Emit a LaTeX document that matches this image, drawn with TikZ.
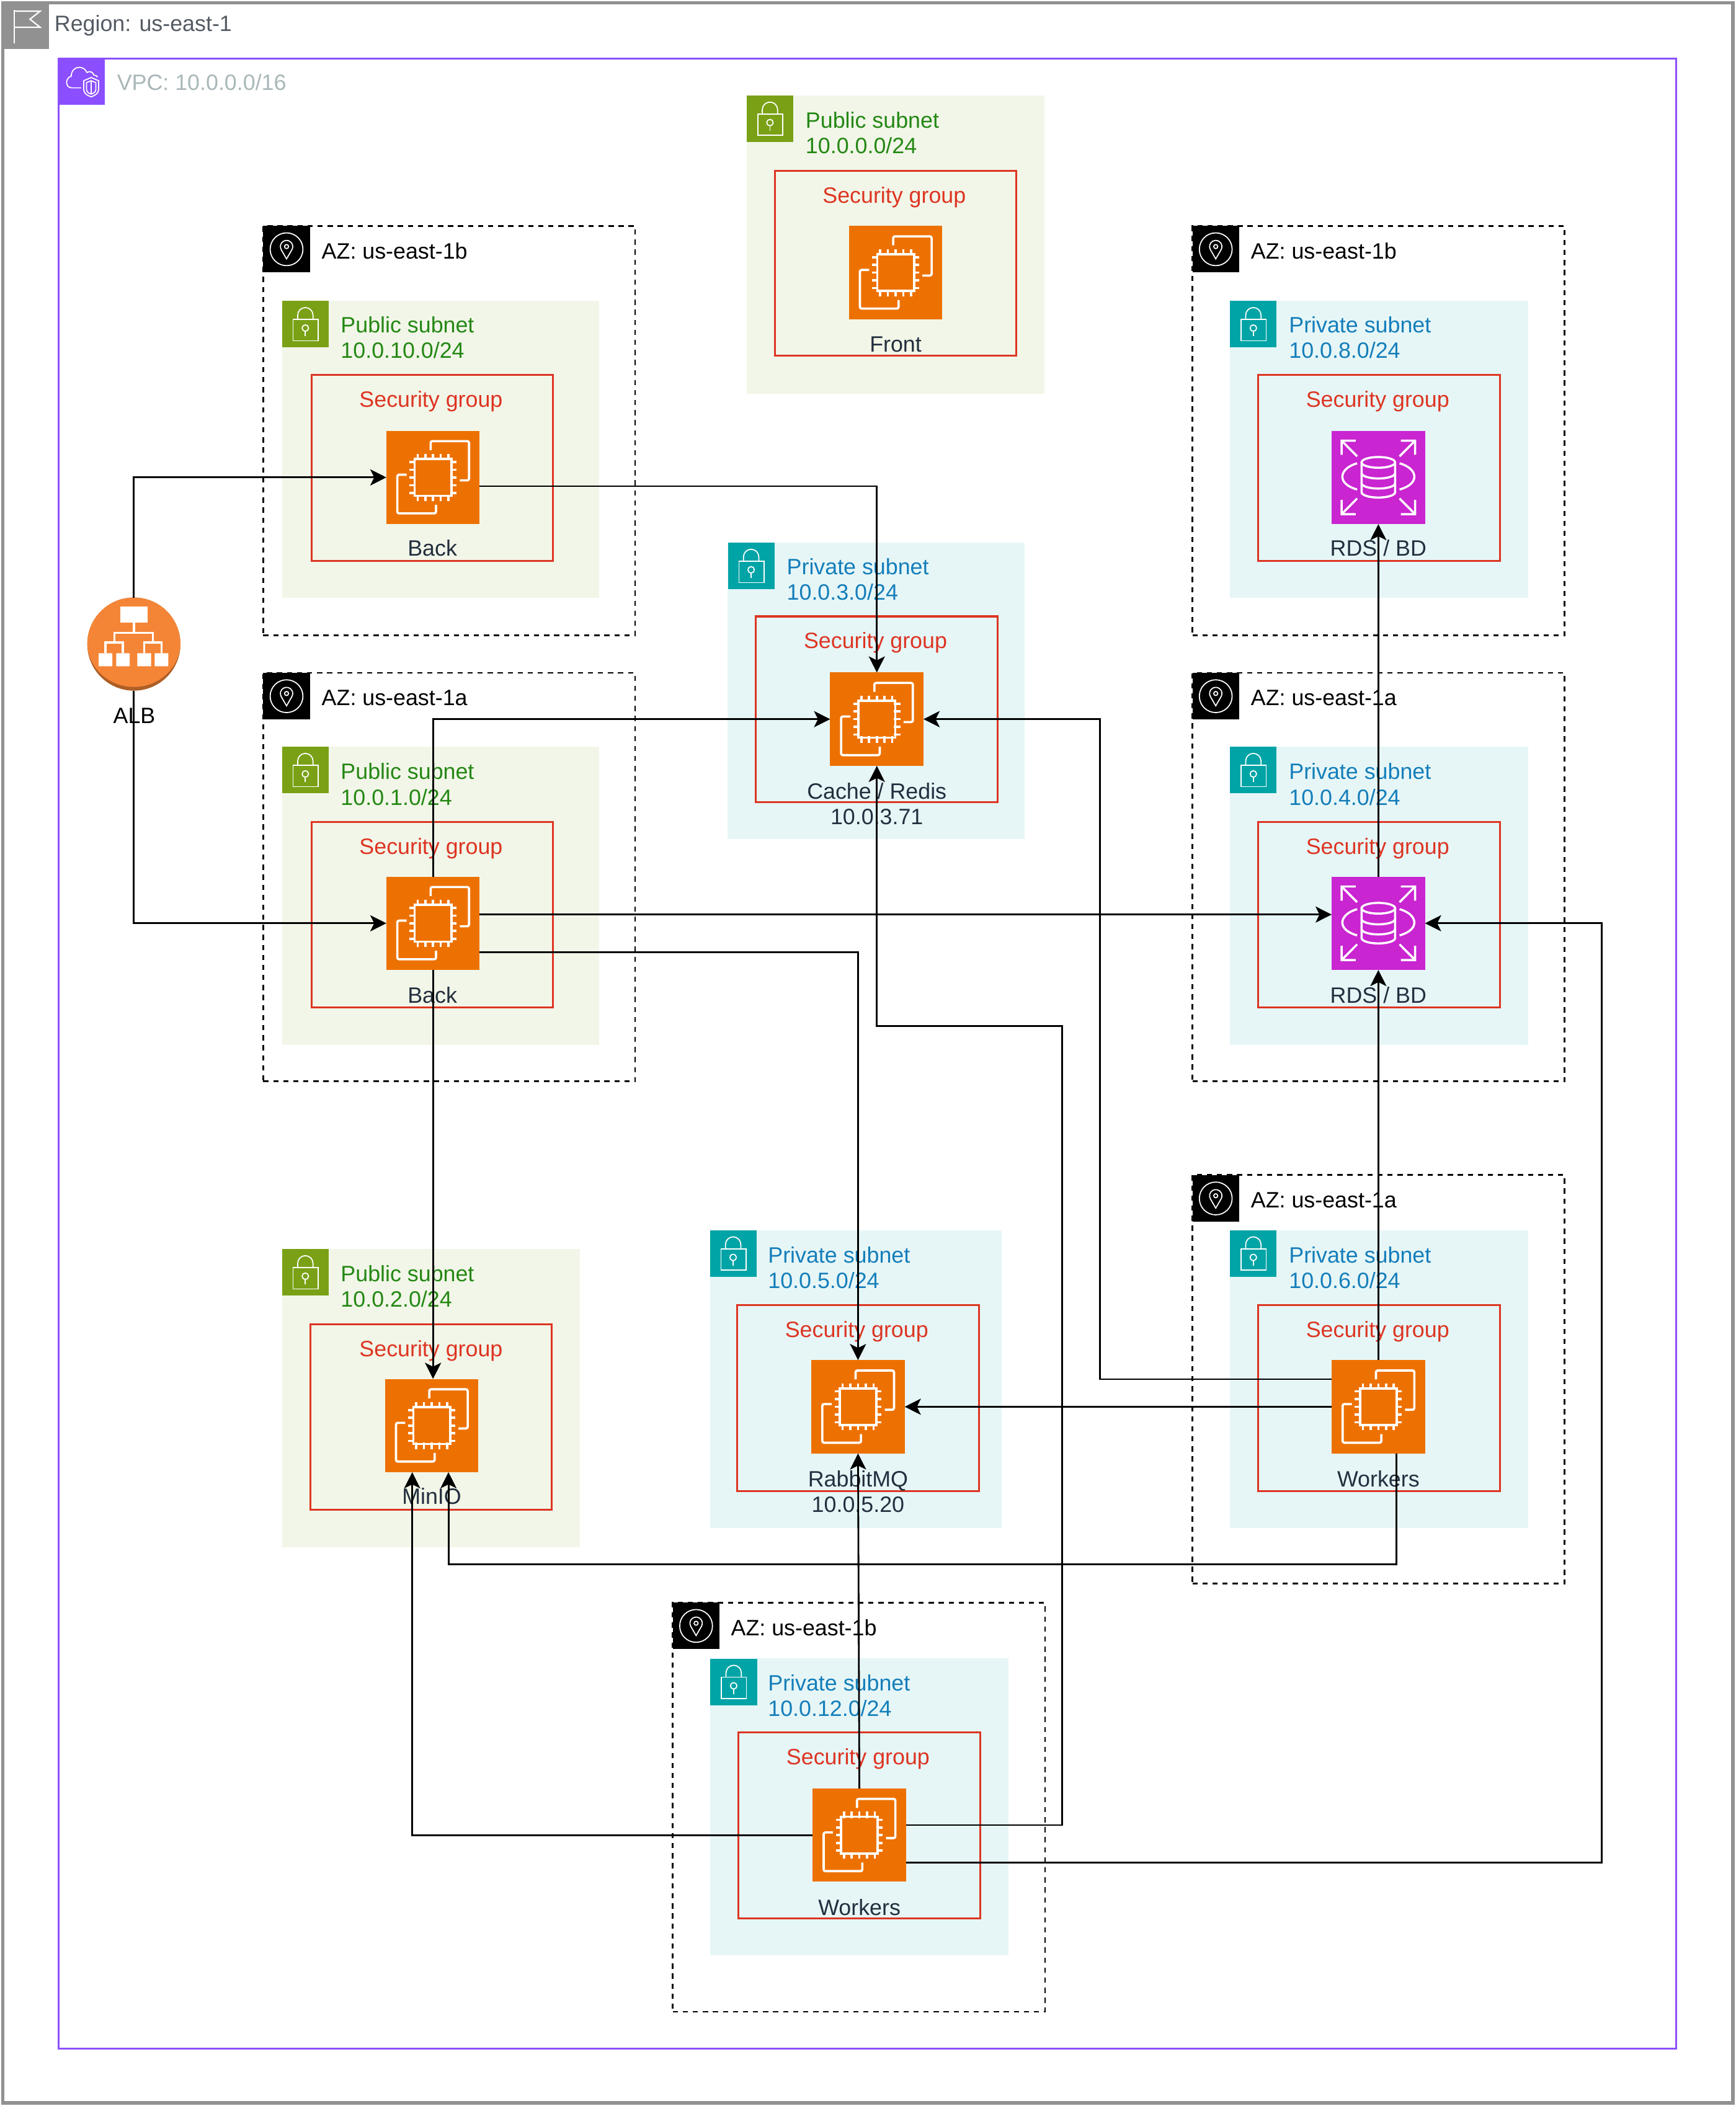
\documentclass[tikz,border=0pt]{standalone}
\usepackage{fontspec}
\setmainfont{Liberation Sans}
\usetikzlibrary{arrows.meta,fit}
\definecolor{regioncol}{HTML}{919191}
\definecolor{regiontxt}{HTML}{545B64}
\definecolor{vpccol}{HTML}{8C4FFF}
\definecolor{vpctxt}{HTML}{AAB7B8}
\definecolor{pubfill}{HTML}{F2F6E8}
\definecolor{pubicon}{HTML}{7AA116}
\definecolor{pubtxt}{HTML}{248814}
\definecolor{privfill}{HTML}{E6F6F7}
\definecolor{privicon}{HTML}{00A4A6}
\definecolor{privtxt}{HTML}{147EBA}
\definecolor{sgcol}{HTML}{DD3522}
\definecolor{ec2col}{HTML}{ED7100}
\definecolor{rdscol}{HTML}{C925D1}
\definecolor{albcol}{HTML}{F58536}
\definecolor{albdark}{HTML}{AD5F26}
\definecolor{lblcol}{HTML}{232F3E}
\begin{document}
\begin{tikzpicture}[x=0.7495pt,y=-0.7497pt]
    \tikzstyle{every node}+=[inner sep=0pt,outer sep=0pt,font=\fontsize{12.4}{14.25}\selectfont]
    \tikzstyle{regionbox}=[draw=regioncol,line width=1.95pt]
    \tikzstyle{vpcbox}=[draw=vpccol,line width=1pt]
    \tikzstyle{azbox}=[draw=black,line width=1pt,dash pattern=on 2.9pt off 2.7pt]
    \tikzstyle{pubbox}=[fill=pubfill]
    \tikzstyle{privbox}=[fill=privfill]
    \tikzstyle{sgbox}=[draw=sgcol,line width=1.05pt]
    \tikzstyle{lbl}=[anchor=base,text=lblcol]
    \tikzstyle{aztxt}=[anchor=base west,yshift=-0.5pt]
    \tikzstyle{sgtxt}=[anchor=base,text=sgcol]
    \tikzstyle{pubnet}=[anchor=west,align=left,text=pubtxt,yshift=0.4pt]
    \tikzstyle{privnet}=[anchor=west,align=left,text=privtxt,yshift=0.4pt]
    \tikzstyle{conn}=[black,line width=0.98pt,-{Stealth[length=9pt,width=9pt,inset=2.2pt]}]
    \tikzstyle{lockicon}=[minimum size=26pt,path picture={
        \begin{scope}[shift={(path picture bounding box.center)},draw=white,line width=0.6pt]
        \draw (-9.1,-3.5) rectangle (9.5,12.4);
        \draw (-5.7,-3.5) -- (-5.7,-6.7) arc[start angle=180,end angle=360,radius=5.7] -- (5.7,-3.5);
        \draw (0,2.9) circle (2.4);
        \draw (0,5.3) -- (0,9.1);
        \end{scope}}]
    \tikzstyle{publock}=[lockicon,fill=pubicon]
    \tikzstyle{privlock}=[lockicon,fill=privicon]
    \tikzstyle{azicon}=[minimum size=26pt,fill=black,path picture={
        \begin{scope}[shift={(path picture bounding box.center)},draw=white,line width=0.6pt]
        \draw (0,0) circle (12.2);
        \draw (0,7.2) -- (-3.98,0.3) arc[start angle=150,end angle=390,radius=4.6] -- cycle;
        \draw (0,-2) circle (1.5);
        \end{scope}}]
    \tikzstyle{flagicon}=[minimum size=26pt,fill=regioncol,path picture={
        \begin{scope}[shift={(path picture bounding box.center)},draw=white,line width=0.75pt]
        \draw (-8.6,-11.8) -- (-8.6,13);
        \draw (-8.6,-11) -- (10.6,-11) -- (3,-5) -- (10.6,1) -- (-8.6,1);
        \end{scope}}]
    \tikzstyle{vpcicon}=[minimum size=26pt,fill=vpccol,path picture={
        \begin{scope}[shift={(path picture bounding box.center)},draw=white,line width=0.6pt]
        \draw (-0.5,4.5) -- (-7.4,4.5) .. controls (-10,4.5) and (-11.3,2.5) .. (-11.3,0.5) .. controls (-11.3,-2) and (-9.5,-3.7) .. (-7.8,-4.2) .. controls (-8,-8) and (-5,-10.8) .. (-2,-10.8) .. controls (1,-10.8) and (3,-9) .. (3.8,-6.9) .. controls (6,-8.5) and (8.5,-7) .. (9,-5) .. controls (10.5,-5) and (11.5,-4.2) .. (11.8,-3.5);
        \draw (7,-3.2) -- (12.5,-0.8) -- (12.5,6) .. controls (12.5,9) and (9,10.5) .. (7,11.2) .. controls (5,10.5) and (1.5,9) .. (1.5,6) -- (1.5,-0.8) -- cycle;
        \draw (7,-0.8) -- (10.5,0.6) -- (10.5,5.8) .. controls (10.5,7.5) and (8.5,8.8) .. (7,9.2) .. controls (5.5,8.8) and (3.5,7.5) .. (3.5,5.8) -- (3.5,0.6) -- cycle;
        \draw (7,-0.8) -- (7,9.2);
        \end{scope}}]
    \tikzstyle{ec2}=[minimum size=52.1pt,fill=ec2col,path picture={
        \begin{scope}[shift={(path picture bounding box.center)},draw=white,line width=1.25pt]
        \draw (-11.5,-17.5) -- (-11.5,17.5) (-5.75,-17.5) -- (-5.75,17.5) (0,-17.5) -- (0,17.5) (5.75,-17.5) -- (5.75,17.5) (11.5,-17.5) -- (11.5,17.5);
        \draw (-17.5,-11.5) -- (17.5,-11.5) (-17.5,-5.75) -- (17.5,-5.75) (-17.5,0) -- (17.5,0) (-17.5,5.75) -- (17.5,5.75) (-17.5,11.5) -- (17.5,11.5);
        \fill[ec2col] (-12.8,-12.8) rectangle (12.8,12.8);
        \draw (-13.7,-13.7) rectangle (13.7,13.7);
        \draw[rounded corners=1pt] (-1.8,-20.3) -- (-1.8,-27) -- (26.8,-27) -- (26.8,2.2) -- (19.9,2.2);
        \draw[rounded corners=1pt] (-19.7,-2) -- (-26.6,-2) -- (-26.6,26.8) -- (2.2,26.8) -- (2.2,20.4);
        \end{scope}}]
    \tikzstyle{rds}=[minimum size=52.1pt,fill=rdscol,path picture={
        \begin{scope}[shift={(path picture bounding box.center)},draw=white,line width=1.2pt]
        \draw (0,-11.2) ellipse [x radius=12.5,y radius=4];
        \draw (-12.5,-11.2) -- (-12.5,11) arc[start angle=180,end angle=0,x radius=12.5,y radius=4] -- (12.5,-11.2);
        \draw (-12.5,-3.2) arc[start angle=180,end angle=0,x radius=12.5,y radius=4];
        \draw (-12.5,4.3) arc[start angle=180,end angle=0,x radius=12.5,y radius=4];
        \draw (-16.8,-27.4) -- (-27.4,-27.4) -- (-27.4,-16.8) (-27.4,-27.4) -- (-15.8,-15.7);
        \draw (16.8,-27.4) -- (27.4,-27.4) -- (27.4,-16.8) (27.4,-27.4) -- (15.8,-15.7);
        \draw (-16.8,27.4) -- (-27.4,27.4) -- (-27.4,16.8) (-27.4,27.4) -- (-15.8,15.7);
        \draw (16.8,27.4) -- (27.4,27.4) -- (27.4,16.8) (27.4,27.4) -- (15.8,15.7);
        \draw (-15.8,-10.5) .. controls (-23,-8.5) and (-26.8,-4.5) .. (-26.8,-0.5) .. controls (-26.8,3.5) and (-23,7) .. (-15.8,9);
        \draw (15.8,-10.5) .. controls (23,-8.5) and (26.8,-4.5) .. (26.8,-0.5) .. controls (26.8,3.5) and (23,7) .. (15.8,9);
        \end{scope}}]
    \tikzstyle{albicon}=[circle,minimum size=52pt,fill=albdark,path picture={
        \begin{scope}[shift={(path picture bounding box.center)}]
        \fill[albcol] (0,-1.35) ellipse [x radius=34.8,y radius=33.25];
        \fill[white] (-10.2,-28.2) rectangle (10.2,-16.2);
        \fill[white] (-26.2,6.8) rectangle (-16,16.5) (-13.2,6.8) rectangle (-3.1,16.5) (2.6,6.8) rectangle (12.8,16.5) (15.5,6.8) rectangle (25.7,16.5);
        \draw[white,line width=1.15pt] (0,-16.2) -- (0,-8.4) (-14.6,-1.2) -- (-14.6,-8.4) -- (14.2,-8.4) -- (14.2,-1.2);
        \draw[white,line width=1.15pt] (-21.2,6.8) -- (-21.2,-1.2) -- (-8.2,-1.2) -- (-8.2,6.8) (7.7,6.8) -- (7.7,-1.2) -- (20.6,-1.2) -- (20.6,6.8);
        \end{scope}}]
    \useasboundingbox (0,0) rectangle (1292.86,1568.2);
    \node [regionbox,fit={(2.1,2.1) (1290.6,1566)}] (region) {};
    \node [flagicon] (regionflag) at (19.3,19.3) {};
    \node [anchor=base west,text=regiontxt,yshift=-0.4pt] (regiontext) at (40.6,23) {Region: us-east-1};
    \node [vpcbox,fit={(43.6,43.6) (1248.4,1525.4)}] (vpc) {};
    \node [vpcicon] (vpcmark) at (60.9,60.9) {};
    \node [anchor=base west,text=vpctxt] (vpctext) at (87.2,67.4) {VPC: 10.0.0.0/16};
    \node [azbox,fit={(196,168.3) (473,473)}] (azbackb) {};
    \node [azicon] (azbackbmark) at (213.4,185.6) {};
    \node [aztxt] (azbackbtext) at (239.6,192) {AZ: us-east-1b};
    \node [azbox,fit={(196,501) (473,805.3)}] (azbacka) {};
    \node [azicon] (azbackamark) at (213.4,518.4) {};
    \node [aztxt] (azbackatext) at (239.6,524.7) {AZ: us-east-1a};
    \node [azbox,fit={(888,168.3) (1165.3,473)}] (azrdsb) {};
    \node [azicon] (azrdsbmark) at (905.4,185.6) {};
    \node [aztxt] (azrdsbtext) at (931.6,192) {AZ: us-east-1b};
    \node [azbox,fit={(888,501) (1165.3,805.3)}] (azrdsa) {};
    \node [azicon] (azrdsamark) at (905.4,518.4) {};
    \node [aztxt] (azrdsatext) at (931.6,524.7) {AZ: us-east-1a};
    \node [azbox,fit={(888,875) (1165.3,1179.3)}] (azworka) {};
    \node [azicon] (azworkamark) at (905.4,892.4) {};
    \node [aztxt] (azworkatext) at (931.6,898.7) {AZ: us-east-1a};
    \node [azbox,fit={(501,1193.3) (778.3,1498)}] (azworkb) {};
    \node [azicon] (azworkbmark) at (518.4,1210.7) {};
    \node [aztxt] (azworkbtext) at (544.4,1217.3) {AZ: us-east-1b};
    \node [pubbox,fit={(556,71) (778,293)}] (netfront) {};
    \node [publock] (lockfront) at (573.4,88.4) {};
    \node [pubnet] (netfronttext) at (600,99.5) {Public subnet\\10.0.0.0/24};
    \node [sgbox,fit={(577,127) (757,265)}] (sgfront) {};
    \node [sgtxt] (sgfronttext) at (666,151) {Security group};
    \node [ec2] (front) at (667,203) {};
    \node [lbl] (fronttext) at (667,262) {Front};
    \node [pubbox,fit={(210,224) (446,445)}] (netbackb) {};
    \node [publock] (lockbackb) at (227.4,241.4) {};
    \node [pubnet] (netbackbtext) at (253.8,252) {Public subnet\\10.0.10.0/24};
    \node [sgbox,fit={(232,279) (412,417.5)}] (sgbackb) {};
    \node [sgtxt] (sgbackbtext) at (321,303) {Security group};
    \node [ec2] (backb) at (322.5,355.5) {};
    \node [lbl] (backbtext) at (322,414) {Back};
    \node [pubbox,fit={(210,556) (446,778)}] (netbacka) {};
    \node [publock] (lockbacka) at (227.4,573.4) {};
    \node [pubnet] (netbackatext) at (253.8,584.5) {Public subnet\\10.0.1.0/24};
    \node [sgbox,fit={(232,612) (412,750)}] (sgbacka) {};
    \node [sgtxt] (sgbackatext) at (321,636) {Security group};
    \node [ec2] (backa) at (322.5,687.5) {};
    \node [lbl] (backatext) at (322,747) {Back};
    \node [pubbox,fit={(210,930) (432,1152)}] (netminio) {};
    \node [publock] (lockminio) at (227.4,947.4) {};
    \node [pubnet] (netminiotext) at (253.8,958.5) {Public subnet\\10.0.2.0/24};
    \node [sgbox,fit={(231,986) (411,1124)}] (sgminio) {};
    \node [sgtxt] (sgminiotext) at (321,1010) {Security group};
    \node [ec2] (minio) at (321.5,1061.5) {};
    \node [lbl] (miniotext) at (321.5,1120) {MinIO};
    \node [privbox,fit={(542,404) (763,625)}] (netredis) {};
    \node [privlock] (lockredis) at (559.4,421.4) {};
    \node [privnet] (netredistext) at (586,432) {Private subnet\\10.0.3.0/24};
    \node [sgbox,fit={(563,459) (743,597.5)}] (sgredis) {};
    \node [sgtxt] (sgredistext) at (652,483) {Security group};
    \node [ec2] (redis) at (653,535.5) {};
    \node [lbl,anchor=center,align=center] (redistext) at (653,598.5) {Cache / Redis\\10.0.3.71};
    \node [privbox,fit={(916,224) (1138,445)}] (netrdsb) {};
    \node [privlock] (lockrdsb) at (933.4,241.4) {};
    \node [privnet] (netrdsbtext) at (960,252) {Private subnet\\10.0.8.0/24};
    \node [sgbox,fit={(937,279) (1117,417.5)}] (sgrdsb) {};
    \node [sgtxt] (sgrdsbtext) at (1026,303) {Security group};
    \node [rds] (rdsb) at (1026.5,355.5) {};
    \node [lbl] (rdsbtext) at (1026.5,414) {RDS / BD};
    \node [privbox,fit={(916,556) (1138,778)}] (netrdsa) {};
    \node [privlock] (lockrdsa) at (933.4,573.4) {};
    \node [privnet] (netrdsatext) at (960,584.5) {Private subnet\\10.0.4.0/24};
    \node [sgbox,fit={(937,612) (1117,750)}] (sgrdsa) {};
    \node [sgtxt] (sgrdsatext) at (1026,636) {Security group};
    \node [rds] (rdsa) at (1026.5,687.5) {};
    \node [lbl] (rdsatext) at (1026.5,747) {RDS / BD};
    \node [privbox,fit={(916,916) (1138,1138)}] (networka) {};
    \node [privlock] (lockworka) at (933.4,933.4) {};
    \node [privnet] (networkatext) at (960,944.5) {Private subnet\\10.0.6.0/24};
    \node [sgbox,fit={(937,972) (1117,1110.5)}] (sgworka) {};
    \node [sgtxt] (sgworkatext) at (1026,996) {Security group};
    \node [ec2] (workera) at (1026.5,1047.5) {};
    \node [lbl] (workeratext) at (1026.5,1107) {Workers};
    \node [privbox,fit={(529,916) (746,1138)}] (netrabbit) {};
    \node [privlock] (lockrabbit) at (546,933.4) {};
    \node [privnet] (netrabbittext) at (572,944.5) {Private subnet\\10.0.5.0/24};
    \node [sgbox,fit={(549,972) (729,1110.5)}] (sgrabbit) {};
    \node [sgtxt] (sgrabbittext) at (638,996) {Security group};
    \node [ec2] (rabbit) at (639,1047.5) {};
    \node [lbl,anchor=center,align=center] (rabbittext) at (639,1110.5) {RabbitMQ\\10.0.5.20};
    \node [privbox,fit={(529,1235) (751,1456)}] (networkb) {};
    \node [privlock] (lockworkb) at (546.4,1252.4) {};
    \node [privnet] (networkbtext) at (572,1263) {Private subnet\\10.0.12.0/24};
    \node [sgbox,fit={(550,1290) (730,1428.5)}] (sgworkb) {};
    \node [sgtxt] (sgworkbtext) at (639,1314) {Security group};
    \node [ec2] (workerb) at (640,1366.5) {};
    \node [lbl] (workerbtext) at (640,1426) {Workers};
    \node [albicon] (alb) at (99.7,479.6) {};
    \node [anchor=base,text=black] (albtext) at (100,538.8) {ALB};
    \coordinate (bendleft) at (819,535.5);
    \coordinate (bendbottom) at (1040,1165);
    \coordinate (bendup) at (791,764);
    \coordinate (bendright) at (1193,687.5);
    \draw [conn] (alb.north) |- (backb.west);
    \draw [conn] (alb.south) |- (backa.west);
    \draw [conn] (backb.east |- 0,362) -| (redis.north);
    \draw [conn] (backa.north) |- (redis.west);
    \draw [conn] (backa.east |- 0,681) -- (rdsa.west |- 0,681);
    \draw [conn] (backa.east |- 0,709) -| (rabbit.north);
    \draw [conn] (backa.south) -- (backa.south |- minio.north);
    \draw [conn] (rdsa.north) -- (rdsb.south);
    \draw [conn] (workera.north) -- (rdsa.south);
    \draw [conn] (workera.west |- 0,1027) -| (bendleft) -- (redis.east);
    \draw [conn] (workera.west) -- (rabbit.east);
    \draw [conn] (bendbottom |- workera.south) -- (bendbottom) -| (minio.south -| 334,0);
    \draw [conn] (workerb.north) -- (rabbit.south);
    \draw [conn] (workerb.west) -| (minio.south -| 307,0);
    \draw [conn] (workerb.east |- 0,1359) -| (bendup) -| (redis.south);
    \draw [conn] (workerb.east |- 0,1387) -| (bendright) -- (rdsa.east);
\end{tikzpicture}
\end{document}
